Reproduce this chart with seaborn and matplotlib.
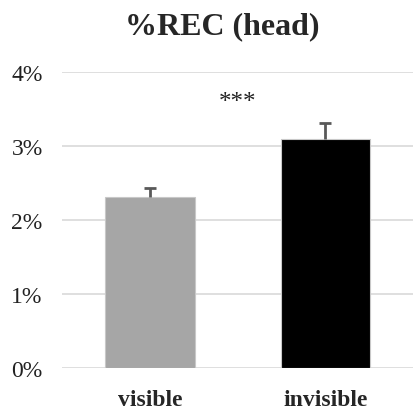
import matplotlib
matplotlib.use("Agg")
import matplotlib.pyplot as plt
import seaborn as sns
import pandas as pd
from matplotlib.ticker import FuncFormatter

categories = ["visible", "invisible"]
values = [2.31, 3.10]
errors = [0.12, 0.21]
bar_colors = ["#a6a6a6", "#000000"]
y_ticks = [0, 1, 2, 3, 4]
title = "%REC (head)"
sig_label = "***"

sns.set_theme(style="white")
plt.rcParams["font.family"] = ["Liberation Serif", "DejaVu Serif"]

df = pd.DataFrame({"cond": categories, "val": values})

fig = plt.figure(figsize=(4.14, 4.10), dpi=100)
ax = fig.add_axes([0.15, 0.10, 0.848, 0.722])

sns.barplot(data=df, x="cond", y="val", hue="cond", palette=bar_colors,
            order=categories, hue_order=categories, legend=False,
            width=0.51, edgecolor=["#c8c8c8", "#404040"], linewidth=0.8,
            errorbar=None, ax=ax, zorder=3)
_, caps, _ = ax.errorbar(x=list(range(len(categories))), y=values,
                         yerr=[[0] * len(errors), errors], fmt="none",
                         ecolor="#595959", elinewidth=2, capsize=4,
                         capthick=2, zorder=4)
for c in caps:
    ys = list(c.get_ydata())
    if all(abs(a - b) < 1e-9 for a, b in zip(ys, values)):
        c.set_visible(False)

ax.set_ylim(0, 4)
ax.set_xlim(-0.5, 1.5)
ax.set_yticks(y_ticks)
ax.yaxis.set_major_formatter(FuncFormatter(lambda v, p: f"{int(v)}%"))
ax.grid(axis="y", color="#d9d9d9", linewidth=1.2, zorder=0)
ax.set_axisbelow(True)
for s in ax.spines.values():
    s.set_visible(False)
ax.tick_params(axis="y", length=0, labelsize=17, pad=14, colors="#222222")
ax.tick_params(axis="x", length=0, labelsize=17, pad=15)
for lab in ax.get_xticklabels():
    lab.set_fontweight("bold")
ax.set_xlabel("")
ax.set_ylabel("")

ax.text(0.5, 3.6, sig_label, ha="center", va="center", fontsize=18,
        color="#222222")
fig.text(0.537, 0.935, title, ha="center", va="center", fontsize=23,
         fontweight="bold")

fig.savefig("out.png", dpi=100)
